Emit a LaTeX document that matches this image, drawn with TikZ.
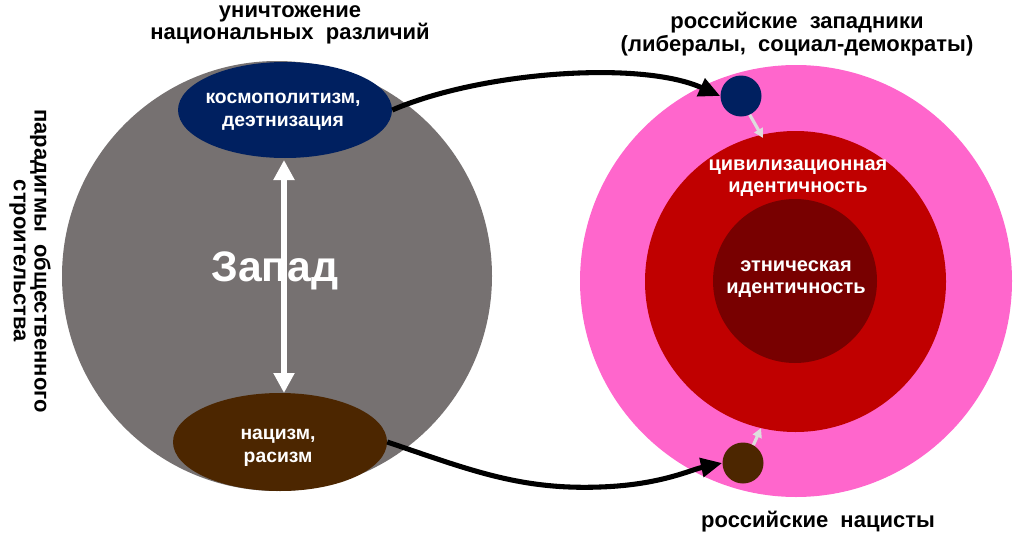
\documentclass[tikz,border=0pt]{standalone}
\usepackage{fontspec}
\setmainfont{Liberation Sans}
\usetikzlibrary{arrows.meta,shapes.geometric}
\definecolor{cgray}{HTML}{767171}
\definecolor{cnavy}{HTML}{002060}
\definecolor{cbrown}{HTML}{4C2600}
\definecolor{cpink}{HTML}{FF66CC}
\definecolor{cred}{HTML}{C00000}
\definecolor{cdred}{HTML}{780000}
\definecolor{clight}{HTML}{DDDDDD}
\tikzset{
  lbl/.style={font=\bfseries\fontsize{16.5}{15.5}\selectfont, align=center, text=black, inner sep=0pt},
  inlbl/.style={font=\bfseries\fontsize{14.5}{17}\selectfont, align=center, text=white, inner sep=0pt},
  idlbl/.style={font=\bfseries\fontsize{15}{17}\selectfont, align=center, text=white, inner sep=0pt},
  disc/.style={circle, draw=none, inner sep=0pt, minimum size=#1},
  oval/.style={ellipse, draw=none, inner sep=0pt},
  bigarrow/.style={line width=3.8pt, -{Triangle[length=16pt,width=14pt]}},
  smallarrow/.style={clight, line width=2.4pt, -{Triangle[length=7pt,width=7pt]}},
  whitearrow/.style={white, line width=5pt, {Triangle[length=15pt,width=15pt]}-{Triangle[length=15pt,width=15pt]}}
}
\begin{document}
\begin{tikzpicture}[x=0.75pt, y=-0.75pt]
\useasboundingbox (0,0) rectangle (1024,539);
% left circle
\node[disc=430*0.75pt, fill=cgray] (west) at (277,276) {};
\node[oval, fill=cnavy, minimum width=214*0.75pt, minimum height=96*0.75pt] (cosmo) at (285,110) {};
\node[oval, fill=cbrown, minimum width=214*0.75pt, minimum height=98*0.75pt] (nazi) at (280,442) {};
\node[inlbl] (cosmolbl) at (283,112) {космополитизм,\\деэтнизация};
\node[inlbl] (nazilbl) at (278,448) {нацизм,\\расизм};
\node[font=\bfseries\fontsize{32}{34}\selectfont, text=white, inner sep=0pt] (zapad) at (275,271) {Запад};
\coordinate (wtop) at (284,160);
\coordinate (wbot) at (284,393);
\draw[whitearrow] (wtop) -- (wbot);
% right circles
\node[disc=432*0.75pt, fill=cpink] (pink) at (796,281) {};
\node[disc=301*0.75pt, fill=cred] (civ) at (795.5,281.5) {};
\node[disc=164*0.75pt, fill=cdred] (eth) at (795,281) {};
\node[idlbl] (civlbl) at (798,178) {цивилизационная\\идентичность};
\node[idlbl] (ethlbl) at (796,279) {этническая\\идентичность};
\node[disc=41*0.75pt, fill=cnavy] (liber) at (741,96) {};
\node[disc=41*0.75pt, fill=cbrown] (rnazi) at (743,463) {};
\coordinate (civtop) at (763,138);
\coordinate (civbot) at (761,428);
\draw[smallarrow] (liber.-65) -- (civtop);
\draw[smallarrow] (rnazi.60) -- (civbot);
% labels
\node[lbl] (t1) at (290,25) {уничтожение\\национальных\ \ различий};
\node[lbl, font=\bfseries\fontsize{16.5}{17}\selectfont] (t2) at (797,34) {российские\ \ западники\\(либералы,\ \ социал-демократы)};
\node[lbl] (t3) at (818,522) {российские\ \ нацисты};
\node[lbl, rotate=-90] (t4) at (30,261) {парадигмы\ \ общественного\\строительства};
% connectors
\draw[bigarrow] (cosmo.east) .. controls (480,72) and (640,60) .. (liber.west);
\draw[bigarrow] (nazi.east) .. controls (470,470) and (520,490) .. (600,487) .. controls (660,485) and (690,470) .. (rnazi.west);
\end{tikzpicture}
\end{document}
